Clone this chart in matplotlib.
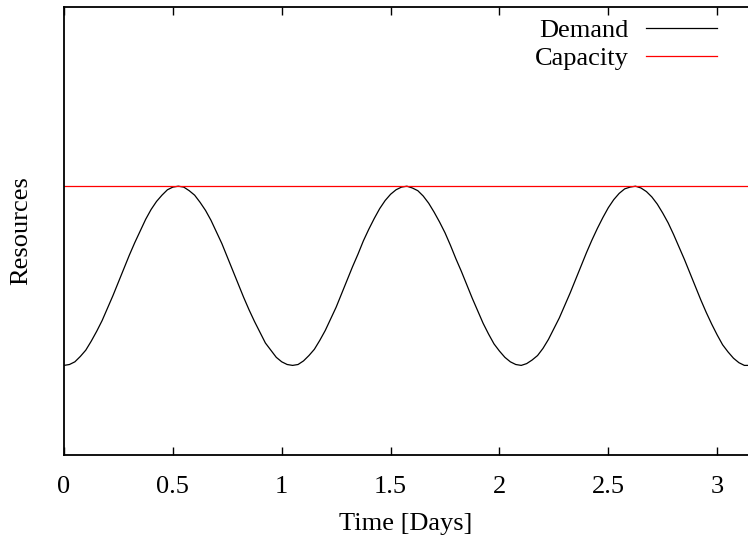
import matplotlib
matplotlib.use("Agg")
import matplotlib.pyplot as plt
import numpy as np

# values (days, resources)
days = [0.000, 0.025, 0.050, 0.075, 0.100, 0.125, 0.150, 0.175, 0.200, 0.225,
        0.250, 0.275, 0.300, 0.325, 0.350, 0.375, 0.400, 0.425, 0.450, 0.475,
        0.500, 0.525, 0.550, 0.575, 0.600, 0.625, 0.650, 0.675, 0.700, 0.725,
        0.750, 0.775, 0.800, 0.825, 0.850, 0.875, 0.900, 0.925, 0.950, 0.975,
        1.000, 1.025, 1.050, 1.075, 1.100, 1.125, 1.150, 1.175, 1.200, 1.225,
        1.250, 1.275, 1.300, 1.325, 1.350, 1.375, 1.400, 1.425, 1.450, 1.475,
        1.500, 1.525, 1.550, 1.575, 1.600, 1.625, 1.650, 1.675, 1.700, 1.725,
        1.750, 1.775, 1.800, 1.825, 1.850, 1.875, 1.900, 1.925, 1.950, 1.975,
        2.000, 2.025, 2.050, 2.075, 2.100, 2.125, 2.150, 2.175, 2.200, 2.225,
        2.250, 2.275, 2.300, 2.325, 2.350, 2.375, 2.400, 2.425, 2.450, 2.475,
        2.500, 2.525, 2.550, 2.575, 2.600, 2.625, 2.650, 2.675, 2.700, 2.725,
        2.750, 2.775, 2.800, 2.825, 2.850, 2.875, 2.900, 2.925, 2.950, 2.975,
        3.000, 3.025, 3.050, 3.075, 3.100, 3.125, 3.150]
demand = [1.00, 1.01, 1.04, 1.10, 1.17, 1.27, 1.38, 1.50, 1.64, 1.78,
          1.93, 2.08, 2.23, 2.37, 2.50, 2.63, 2.74, 2.83, 2.90, 2.96,
          2.99, 3.00, 2.99, 2.95, 2.90, 2.82, 2.73, 2.62, 2.49, 2.36,
          2.21, 2.06, 1.91, 1.76, 1.62, 1.49, 1.37, 1.25, 1.17, 1.09,
          1.04, 1.01, 1.00, 1.01, 1.05, 1.11, 1.18, 1.28, 1.39, 1.52,
          1.65, 1.80, 1.95, 2.10, 2.24, 2.39, 2.52, 2.64, 2.75, 2.84,
          2.91, 2.96, 2.99, 3.00, 2.98, 2.95, 2.89, 2.81, 2.71, 2.60,
          2.48, 2.34, 2.19, 2.05, 1.90, 1.75, 1.61, 1.47, 1.35, 1.24,
          1.16, 1.09, 1.04, 1.01, 1.00, 1.02, 1.06, 1.11, 1.19, 1.29,
          1.41, 1.53, 1.67, 1.81, 1.96, 2.11, 2.26, 2.40, 2.53, 2.65,
          2.76, 2.85, 2.92, 2.97, 2.99, 3.00, 2.98, 2.94, 2.88, 2.80,
          2.70, 2.59, 2.46, 2.32, 2.18, 2.03, 1.88, 1.73, 1.59, 1.46,
          1.34, 1.23, 1.15, 1.08, 1.03, 1.00, 1.00]
capacity_days = [0.0, 3.15]
capacity = [3.0, 3.0]
xticks = [0, 0.5, 1, 1.5, 2, 2.5, 3]
xticklabels = ["0", "0.5", "1", "1.5", "2", "2.5", "3"]

plt.rcParams["font.family"] = ["Liberation Serif", "DejaVu Serif"]
plt.rcParams["font.size"] = 19

fig = plt.figure(figsize=(7.48, 5.37), dpi=100)
ax = fig.add_axes([64 / 748, 82 / 537, 1 - 64 / 748, 448 / 537])

ax.plot(days, demand, color="black", lw=0.9, label="Demand")
ax.plot(capacity_days, capacity, color="red", lw=0.9, label="Capacity")

ax.set_xlim(0, np.pi)
ax.set_ylim(0, 5)
ax.set_xticks(xticks)
ax.set_xticklabels(xticklabels)
ax.set_yticks([])
ax.tick_params(axis="x", direction="in", length=6, width=1, top=True, pad=15)
ax.spines["right"].set_visible(False)
for side in ["left", "top", "bottom"]:
    ax.spines[side].set_linewidth(1.3)

ax.set_xlabel("Time [Days]", labelpad=11)
ax.set_ylabel("Resources", labelpad=23)

ax.legend(loc="upper right", frameon=False, markerfirst=False,
          handlelength=2.7, handletextpad=0.65, labelspacing=0.15,
          borderaxespad=0.0, bbox_to_anchor=(0.97, 0.997))

fig.savefig("out.png", dpi=100)
